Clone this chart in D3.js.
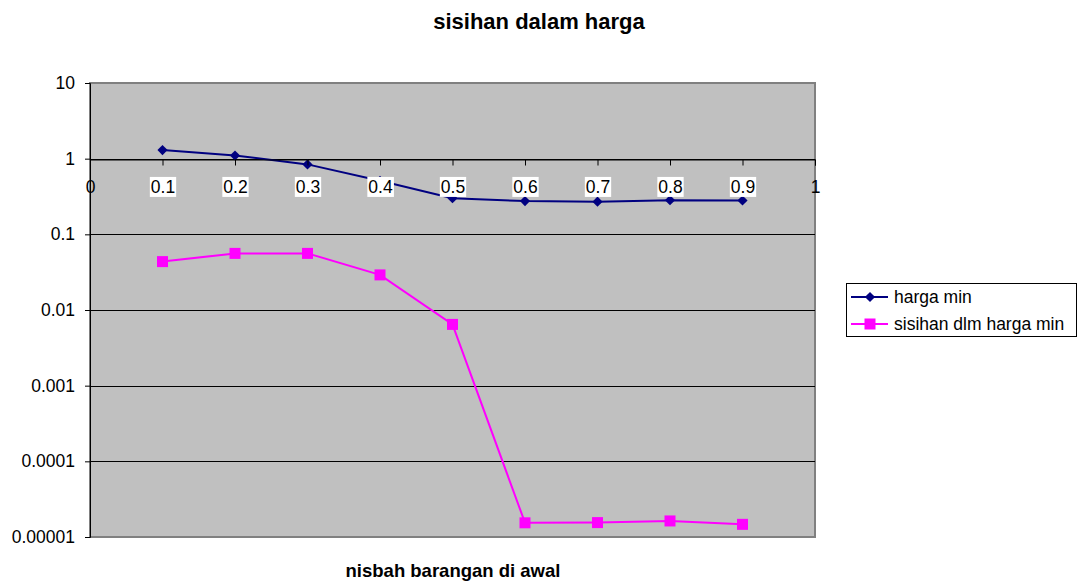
<!DOCTYPE html>
<html>
<head>
<title>sisihan dalam harga</title>
<script src="https://d3js.org/d3.v7.min.js"></script>
<style>
body { margin: 0; background: #fff; }
text { font-family: Arial, "Liberation Sans", sans-serif; }
</style>
</head>
<body>
<script>
// data
var nisbah = [0.1, 0.2, 0.3, 0.4, 0.5, 0.6, 0.7, 0.8, 0.9];
var hargaMin = [1.30, 1.10, 0.84, 0.51, 0.30, 0.275, 0.27, 0.283, 0.28];
var sisihan = [0.0436, 0.056, 0.056, 0.0291, 0.00645, 0.0000154, 0.0000155, 0.0000163, 0.0000147];
var xTicks = [0, 0.1, 0.2, 0.3, 0.4, 0.5, 0.6, 0.7, 0.8, 0.9, 1];
var yTicks = [0.00001, 0.0001, 0.001, 0.01, 0.1, 1, 10];
var yTickLabels = ["0.00001", "0.0001", "0.001", "0.01", "0.1", "1", "10"];
var seriesNames = ["harga min", "sisihan dlm harga min"];

var w = 1078, h = 581;
var pLeft = 90, pRight = 815, pTop = 83, pBottom = 537;
var fontFam = "Arial, 'Liberation Sans', sans-serif";

var svg = d3.select("body").append("svg")
    .attr("width", w).attr("height", h);

var x = d3.scaleLinear().domain([0, 1]).range([pLeft, pRight]);
var y = d3.scaleLog().domain([0.00001, 10]).range([pBottom, pTop]);

// plot area
svg.append("rect")
    .attr("x", pLeft).attr("y", pTop)
    .attr("width", pRight - pLeft).attr("height", pBottom - pTop)
    .attr("fill", "#c0c0c0").attr("stroke", "#808080").attr("stroke-width", 2);

// gridlines
svg.selectAll(".grid").data(yTicks.slice(1, -1)).enter().append("line")
    .attr("x1", pLeft).attr("x2", pRight)
    .attr("y1", function(d){ return Math.round(y(d)) + 0.5; })
    .attr("y2", function(d){ return Math.round(y(d)) + 0.5; })
    .attr("stroke", "#000").attr("stroke-width", 1);

// y axis
var yAxis = d3.axisLeft(y).tickValues(yTicks).tickSize(5)
    .tickFormat(function(d, i){ return yTickLabels[i]; });
var gy = svg.append("g").attr("transform", "translate(" + pLeft + ",0)").call(yAxis);
gy.select(".domain").attr("stroke", "#000");
gy.selectAll("text").attr("font-size", "17.5px").attr("fill", "#000")
    .attr("font-family", fontFam).attr("x", -15);

// x axis crossing at 1
var xAxis = d3.axisBottom(x).tickValues(xTicks).tickSize(6).tickFormat(d3.format(""));
var gx = svg.append("g").attr("transform", "translate(0," + Math.round(y(1)) + ".5)").call(xAxis);
gx.select(".domain").attr("stroke", "#000");
gx.selectAll("text").attr("font-size", "17.5px").attr("fill", "#000")
    .attr("font-family", fontFam).attr("y", 21);

// series
var line1 = d3.line().x(function(d, i){ return x(nisbah[i]); }).y(function(d){ return y(d); });
svg.append("path").datum(hargaMin).attr("d", line1)
    .attr("fill", "none").attr("stroke", "#000080").attr("stroke-width", 2);
svg.append("path").datum(sisihan).attr("d", line1)
    .attr("fill", "none").attr("stroke", "#ff00ff").attr("stroke-width", 2);

svg.selectAll(".dia").data(hargaMin).enter().append("path")
    .attr("d", d3.symbol().type(d3.symbolDiamond2).size(66))
    .attr("transform", function(d, i){ return "translate(" + x(nisbah[i]) + "," + y(d) + ")"; })
    .attr("fill", "#000080");
svg.selectAll(".sq").data(sisihan).enter().append("rect")
    .attr("x", function(d, i){ return x(nisbah[i]) - 5.5; })
    .attr("y", function(d){ return y(d) - 5.5; })
    .attr("width", 11).attr("height", 11)
    .attr("fill", "#ff00ff");

// white label boxes over the lines, drawn after series
gx.raise();
gx.selectAll(".tick").filter(function(d){ return d > 0 && d < 1; }).each(function(){
    var t = d3.select(this).select("text");
    var bb = t.node().getBBox();
    d3.select(this).insert("rect", "text")
        .attr("x", bb.x - 1).attr("y", bb.y)
        .attr("width", bb.width + 2).attr("height", bb.height)
        .attr("fill", "#fff");
});

// titles
svg.append("text").attr("x", 539).attr("y", 29).attr("text-anchor", "middle")
    .attr("font-size", "22px").attr("font-weight", "bold").text("sisihan dalam harga");
svg.append("text").attr("x", 453).attr("y", 577).attr("text-anchor", "middle")
    .attr("font-size", "18.5px").attr("font-weight", "bold").text("nisbah barangan di awal");

// legend
var lg = svg.append("g");
lg.append("rect").attr("x", 846.5).attr("y", 283.5).attr("width", 230).attr("height", 53)
    .attr("fill", "#fff").attr("stroke", "#000").attr("stroke-width", 1);
var colors = ["#000080", "#ff00ff"];
seriesNames.forEach(function(name, i){
    var ly = 297 + i * 27;
    lg.append("line").attr("x1", 851).attr("x2", 888).attr("y1", ly).attr("y2", ly)
        .attr("stroke", colors[i]).attr("stroke-width", 2);
    if (i === 0) {
        lg.append("path").attr("d", d3.symbol().type(d3.symbolDiamond2).size(66))
            .attr("transform", "translate(870," + ly + ")").attr("fill", colors[i]);
    } else {
        lg.append("rect").attr("x", 864.5).attr("y", ly - 5.5).attr("width", 11).attr("height", 11)
            .attr("fill", colors[i]);
    }
    lg.append("text").attr("x", 894).attr("y", ly + 6).attr("font-size", "17.5px").text(name);
});
</script>
</body>
</html>
